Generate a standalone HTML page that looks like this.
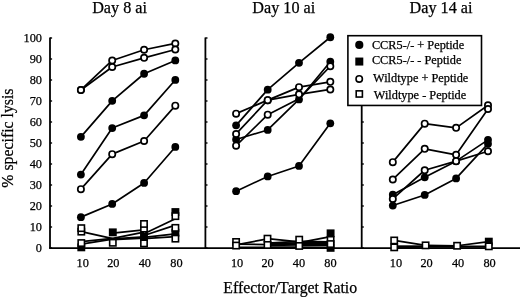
<!DOCTYPE html>
<html><head><meta charset="utf-8"><style>
html,body{margin:0;padding:0;background:#fff;}
body{width:520px;height:297px;overflow:hidden;}
svg{display:block;filter:grayscale(1);}
.t12{font-family:"Liberation Serif",serif;font-size:12.3px;fill:#000;stroke:#000;stroke-width:0.25px;}
.t16{font-family:"Liberation Serif",serif;font-size:16.2px;fill:#000;stroke:#000;stroke-width:0.25px;}
.t16b{font-family:"Liberation Serif",serif;font-size:15.8px;fill:#000;stroke:#000;stroke-width:0.25px;}
.t16c{font-family:"Liberation Serif",serif;font-size:15.8px;fill:#000;stroke:#000;stroke-width:0.25px;}
</style></head><body>
<svg width="520" height="297" viewBox="0 0 520 297">
<line x1="49.1" y1="248.2" x2="520" y2="248.2" stroke="#000" stroke-width="1.7"/>
<line x1="50.0" y1="37.5" x2="50.0" y2="248.2" stroke="#000" stroke-width="1.8"/>
<line x1="50.0" y1="248" x2="52.1" y2="248" stroke="#000" stroke-width="1.4"/>
<line x1="50.0" y1="227" x2="52.1" y2="227" stroke="#000" stroke-width="1.4"/>
<line x1="50.0" y1="206" x2="52.1" y2="206" stroke="#000" stroke-width="1.4"/>
<line x1="50.0" y1="185" x2="52.1" y2="185" stroke="#000" stroke-width="1.4"/>
<line x1="50.0" y1="164" x2="52.1" y2="164" stroke="#000" stroke-width="1.4"/>
<line x1="50.0" y1="143" x2="52.1" y2="143" stroke="#000" stroke-width="1.4"/>
<line x1="50.0" y1="122" x2="52.1" y2="122" stroke="#000" stroke-width="1.4"/>
<line x1="50.0" y1="101" x2="52.1" y2="101" stroke="#000" stroke-width="1.4"/>
<line x1="50.0" y1="80" x2="52.1" y2="80" stroke="#000" stroke-width="1.4"/>
<line x1="50.0" y1="59" x2="52.1" y2="59" stroke="#000" stroke-width="1.4"/>
<line x1="50.0" y1="38" x2="52.1" y2="38" stroke="#000" stroke-width="1.4"/>
<line x1="205.4" y1="37.5" x2="205.4" y2="248.2" stroke="#000" stroke-width="1.8"/>
<line x1="205.4" y1="248" x2="207.5" y2="248" stroke="#000" stroke-width="1.4"/>
<line x1="205.4" y1="227" x2="207.5" y2="227" stroke="#000" stroke-width="1.4"/>
<line x1="205.4" y1="206" x2="207.5" y2="206" stroke="#000" stroke-width="1.4"/>
<line x1="205.4" y1="185" x2="207.5" y2="185" stroke="#000" stroke-width="1.4"/>
<line x1="205.4" y1="164" x2="207.5" y2="164" stroke="#000" stroke-width="1.4"/>
<line x1="205.4" y1="143" x2="207.5" y2="143" stroke="#000" stroke-width="1.4"/>
<line x1="205.4" y1="122" x2="207.5" y2="122" stroke="#000" stroke-width="1.4"/>
<line x1="205.4" y1="101" x2="207.5" y2="101" stroke="#000" stroke-width="1.4"/>
<line x1="205.4" y1="80" x2="207.5" y2="80" stroke="#000" stroke-width="1.4"/>
<line x1="205.4" y1="59" x2="207.5" y2="59" stroke="#000" stroke-width="1.4"/>
<line x1="205.4" y1="38" x2="207.5" y2="38" stroke="#000" stroke-width="1.4"/>
<line x1="361.7" y1="105" x2="361.7" y2="248.2" stroke="#000" stroke-width="1.8"/>
<line x1="361.7" y1="248" x2="363.8" y2="248" stroke="#000" stroke-width="1.4"/>
<line x1="361.7" y1="227" x2="363.8" y2="227" stroke="#000" stroke-width="1.4"/>
<line x1="361.7" y1="206" x2="363.8" y2="206" stroke="#000" stroke-width="1.4"/>
<line x1="361.7" y1="185" x2="363.8" y2="185" stroke="#000" stroke-width="1.4"/>
<line x1="361.7" y1="164" x2="363.8" y2="164" stroke="#000" stroke-width="1.4"/>
<line x1="361.7" y1="143" x2="363.8" y2="143" stroke="#000" stroke-width="1.4"/>
<line x1="361.7" y1="122" x2="363.8" y2="122" stroke="#000" stroke-width="1.4"/>
<text x="42" y="252.2" text-anchor="end" class="t12">0</text>
<text x="42" y="231.2" text-anchor="end" class="t12">10</text>
<text x="42" y="210.2" text-anchor="end" class="t12">20</text>
<text x="42" y="189.2" text-anchor="end" class="t12">30</text>
<text x="42" y="168.2" text-anchor="end" class="t12">40</text>
<text x="42" y="147.2" text-anchor="end" class="t12">50</text>
<text x="42" y="126.2" text-anchor="end" class="t12">60</text>
<text x="42" y="105.2" text-anchor="end" class="t12">70</text>
<text x="42" y="84.2" text-anchor="end" class="t12">80</text>
<text x="42" y="63.2" text-anchor="end" class="t12">90</text>
<text x="42" y="42.2" text-anchor="end" class="t12">100</text>
<text x="82.7" y="266.9" text-anchor="middle" class="t12">10</text>
<text x="113.3" y="266.9" text-anchor="middle" class="t12">20</text>
<text x="144.8" y="266.9" text-anchor="middle" class="t12">40</text>
<text x="176.4" y="266.9" text-anchor="middle" class="t12">80</text>
<text x="237.1" y="266.9" text-anchor="middle" class="t12">10</text>
<text x="267.6" y="266.9" text-anchor="middle" class="t12">20</text>
<text x="299.0" y="266.9" text-anchor="middle" class="t12">40</text>
<text x="330.4" y="266.9" text-anchor="middle" class="t12">80</text>
<text x="395.9" y="266.9" text-anchor="middle" class="t12">10</text>
<text x="426.6" y="266.9" text-anchor="middle" class="t12">20</text>
<text x="458.1" y="266.9" text-anchor="middle" class="t12">40</text>
<text x="489.6" y="266.9" text-anchor="middle" class="t12">80</text>
<text x="119.6" y="12.7" text-anchor="middle" class="t16">Day 8 ai</text>
<text x="283.8" y="12.7" text-anchor="middle" class="t16">Day 10 ai</text>
<text x="441.0" y="12.7" text-anchor="middle" class="t16">Day 14 ai</text>
<text x="290.2" y="292.5" text-anchor="middle" class="t16b">Effector/Target Ratio</text>
<text transform="translate(12.8,138.1) rotate(-90)" x="0" y="0" text-anchor="middle" class="t16c">% specific lysis</text>
<g transform="translate(0.2,0.35)">
<polyline points="80.7,136.5 112.0,100.5 143.9,73.4 175.1,60.1" fill="none" stroke="#000" stroke-width="1.7" stroke-linejoin="round"/>
<polyline points="80.7,174.2 112.0,127.7 143.9,115.0 175.1,79.6" fill="none" stroke="#000" stroke-width="1.7" stroke-linejoin="round"/>
<polyline points="80.7,216.8 112.0,203.6 143.9,182.6 175.1,146.6" fill="none" stroke="#000" stroke-width="1.7" stroke-linejoin="round"/>
<polyline points="80.7,89.6 112.0,60.1 143.9,49.4 175.1,43.1" fill="none" stroke="#000" stroke-width="1.7" stroke-linejoin="round"/>
<polyline points="80.7,89.6 112.0,66.7 143.9,57.5 175.1,49.2" fill="none" stroke="#000" stroke-width="1.7" stroke-linejoin="round"/>
<polyline points="80.7,188.8 112.0,153.8 143.9,140.7 175.1,105.3" fill="none" stroke="#000" stroke-width="1.7" stroke-linejoin="round"/>
<polyline points="235.9,125.0 267.5,89.3 298.8,62.5 330.1,36.9" fill="none" stroke="#000" stroke-width="1.7" stroke-linejoin="round"/>
<polyline points="235.9,139.1 267.5,129.6 298.8,99.1 330.1,61.4" fill="none" stroke="#000" stroke-width="1.7" stroke-linejoin="round"/>
<polyline points="235.9,190.85 267.5,176.1 298.8,165.6 330.1,122.95" fill="none" stroke="#000" stroke-width="1.7" stroke-linejoin="round"/>
<polyline points="235.9,113.3 267.5,99.8 298.8,86.8 330.1,81.5" fill="none" stroke="#000" stroke-width="1.7" stroke-linejoin="round"/>
<polyline points="235.9,133.6 267.5,99.8 298.8,94.0 330.1,89.1" fill="none" stroke="#000" stroke-width="1.7" stroke-linejoin="round"/>
<polyline points="235.9,145.3 267.5,114.3 298.8,98.5 330.1,65.9" fill="none" stroke="#000" stroke-width="1.7" stroke-linejoin="round"/>
<polyline points="392.6,194.3 424.5,177.0 455.9,160.8 487.8,139.5" fill="none" stroke="#000" stroke-width="1.7" stroke-linejoin="round"/>
<polyline points="392.6,205.2 424.5,194.6 455.9,178.1 487.8,143.5" fill="none" stroke="#000" stroke-width="1.7" stroke-linejoin="round"/>
<polyline points="392.6,161.8 424.5,123.3 455.9,127.5 487.8,104.9" fill="none" stroke="#000" stroke-width="1.7" stroke-linejoin="round"/>
<polyline points="392.6,179.1 424.5,148.5 455.9,154.5 487.8,108.7" fill="none" stroke="#000" stroke-width="1.7" stroke-linejoin="round"/>
<polyline points="392.6,198.6 424.5,169.9 455.9,160.8 487.8,150.9" fill="none" stroke="#000" stroke-width="1.7" stroke-linejoin="round"/>
<line x1="81.1" y1="231.3" x2="112.6" y2="238.3" stroke="#000" stroke-width="1.7"/>
<line x1="81.1" y1="241.2" x2="112.6" y2="238.0" stroke="#000" stroke-width="1.7"/>
<line x1="81.1" y1="243.8" x2="112.6" y2="238.8" stroke="#000" stroke-width="1.7"/>
<line x1="112.6" y1="232.8" x2="143.8" y2="229.6" stroke="#000" stroke-width="1.7"/>
<line x1="112.6" y1="238.0" x2="143.8" y2="231.8" stroke="#000" stroke-width="1.7"/>
<line x1="112.6" y1="238.6" x2="143.8" y2="236.5" stroke="#000" stroke-width="1.7"/>
<line x1="112.6" y1="239.2" x2="143.8" y2="237.8" stroke="#000" stroke-width="1.7"/>
<line x1="143.8" y1="233.5" x2="175.2" y2="218.5" stroke="#000" stroke-width="1.7"/>
<line x1="143.8" y1="235.2" x2="175.2" y2="224.8" stroke="#000" stroke-width="1.7"/>
<line x1="143.8" y1="237.0" x2="175.2" y2="233.5" stroke="#000" stroke-width="1.7"/>
<line x1="143.8" y1="238.2" x2="175.2" y2="236.2" stroke="#000" stroke-width="1.7"/>
<line x1="235.9" y1="244.6" x2="267.3" y2="238.5" stroke="#000" stroke-width="1.7"/>
<line x1="235.9" y1="243.8" x2="267.3" y2="244.2" stroke="#000" stroke-width="1.7"/>
<line x1="235.9" y1="247.0" x2="267.3" y2="247.0" stroke="#000" stroke-width="1.7"/>
<line x1="267.3" y1="238.3" x2="299.0" y2="241.5" stroke="#000" stroke-width="1.7"/>
<line x1="267.3" y1="242.8" x2="299.0" y2="241.0" stroke="#000" stroke-width="1.7"/>
<line x1="267.3" y1="243.5" x2="299.0" y2="242.5" stroke="#000" stroke-width="1.7"/>
<line x1="267.3" y1="244.5" x2="299.0" y2="243.5" stroke="#000" stroke-width="1.7"/>
<line x1="267.3" y1="245.0" x2="299.0" y2="244.5" stroke="#000" stroke-width="1.7"/>
<line x1="267.3" y1="246.8" x2="299.0" y2="246.8" stroke="#000" stroke-width="1.7"/>
<line x1="299.0" y1="242.3" x2="330.4" y2="236.3" stroke="#000" stroke-width="1.7"/>
<line x1="299.0" y1="241.0" x2="330.4" y2="241.5" stroke="#000" stroke-width="1.7"/>
<line x1="299.0" y1="241.8" x2="330.4" y2="242.5" stroke="#000" stroke-width="1.7"/>
<line x1="299.0" y1="242.8" x2="330.4" y2="243.2" stroke="#000" stroke-width="1.7"/>
<line x1="299.0" y1="244.0" x2="330.4" y2="244.0" stroke="#000" stroke-width="1.7"/>
<line x1="299.0" y1="244.8" x2="330.4" y2="244.8" stroke="#000" stroke-width="1.7"/>
<line x1="299.0" y1="246.8" x2="330.4" y2="247.0" stroke="#000" stroke-width="1.7"/>
<line x1="394.0" y1="240.1" x2="425.4" y2="245.0" stroke="#000" stroke-width="1.7"/>
<line x1="394.0" y1="245.8" x2="425.4" y2="245.8" stroke="#000" stroke-width="1.7"/>
<line x1="394.0" y1="247.0" x2="425.4" y2="246.5" stroke="#000" stroke-width="1.7"/>
<line x1="425.4" y1="245.0" x2="456.9" y2="245.4" stroke="#000" stroke-width="1.7"/>
<line x1="425.4" y1="246.5" x2="456.9" y2="246.5" stroke="#000" stroke-width="1.7"/>
<line x1="425.4" y1="245.8" x2="456.9" y2="246.0" stroke="#000" stroke-width="1.7"/>
<line x1="456.9" y1="245.4" x2="488.6" y2="241.3" stroke="#000" stroke-width="1.7"/>
<line x1="456.9" y1="246.0" x2="488.6" y2="246.0" stroke="#000" stroke-width="1.7"/>
<line x1="456.9" y1="246.5" x2="488.6" y2="246.5" stroke="#000" stroke-width="1.7"/>
<rect x="77.15" y="243.05" width="7.9" height="7.9" fill="#000"/>
<rect x="108.65" y="228.05" width="7.9" height="7.9" fill="#000"/>
<rect x="139.85" y="232.55" width="7.9" height="7.9" fill="#000"/>
<rect x="171.25" y="207.75" width="7.9" height="7.9" fill="#000"/>
<rect x="171.25" y="228.35" width="7.9" height="7.9" fill="#000"/>
<rect x="326.45" y="229.05" width="7.9" height="7.9" fill="#000"/>
<rect x="326.45" y="243.55" width="7.9" height="7.9" fill="#000"/>
<rect x="484.65" y="237.35" width="7.9" height="7.9" fill="#000"/>
<rect x="77.95" y="228.15" width="6.3" height="6.3" fill="#fff" stroke="#000" stroke-width="1.6"/>
<rect x="77.95" y="224.65" width="6.3" height="6.3" fill="#fff" stroke="#000" stroke-width="1.6"/>
<rect x="77.95" y="239.55" width="6.3" height="6.3" fill="#fff" stroke="#000" stroke-width="1.6"/>
<rect x="109.45" y="239.25" width="6.3" height="6.3" fill="#fff" stroke="#000" stroke-width="1.6"/>
<rect x="140.65" y="225.15" width="6.3" height="6.3" fill="#fff" stroke="#000" stroke-width="1.6"/>
<rect x="140.65" y="220.45" width="6.3" height="6.3" fill="#fff" stroke="#000" stroke-width="1.6"/>
<rect x="140.65" y="239.85" width="6.3" height="6.3" fill="#fff" stroke="#000" stroke-width="1.6"/>
<rect x="172.05" y="212.65" width="6.3" height="6.3" fill="#fff" stroke="#000" stroke-width="1.6"/>
<rect x="172.05" y="224.35" width="6.3" height="6.3" fill="#fff" stroke="#000" stroke-width="1.6"/>
<rect x="172.05" y="235.15" width="6.3" height="6.3" fill="#fff" stroke="#000" stroke-width="1.6"/>
<rect x="232.75" y="238.45" width="6.3" height="6.3" fill="#fff" stroke="#000" stroke-width="1.6"/>
<rect x="232.75" y="242.05" width="6.3" height="6.3" fill="#fff" stroke="#000" stroke-width="1.6"/>
<rect x="264.15" y="235.15" width="6.3" height="6.3" fill="#fff" stroke="#000" stroke-width="1.6"/>
<rect x="264.15" y="241.45" width="6.3" height="6.3" fill="#fff" stroke="#000" stroke-width="1.6"/>
<rect x="295.85" y="236.15" width="6.3" height="6.3" fill="#fff" stroke="#000" stroke-width="1.6"/>
<rect x="295.85" y="242.45" width="6.3" height="6.3" fill="#fff" stroke="#000" stroke-width="1.6"/>
<rect x="327.25" y="236.35" width="6.3" height="6.3" fill="#fff" stroke="#000" stroke-width="1.6"/>
<rect x="327.25" y="240.55" width="6.3" height="6.3" fill="#fff" stroke="#000" stroke-width="1.6"/>
<rect x="390.85" y="236.95" width="6.3" height="6.3" fill="#fff" stroke="#000" stroke-width="1.6"/>
<rect x="390.85" y="243.85" width="6.3" height="6.3" fill="#fff" stroke="#000" stroke-width="1.6"/>
<rect x="422.25" y="241.85" width="6.3" height="6.3" fill="#fff" stroke="#000" stroke-width="1.6"/>
<rect x="453.75" y="242.25" width="6.3" height="6.3" fill="#fff" stroke="#000" stroke-width="1.6"/>
<rect x="485.45" y="242.85" width="6.3" height="6.3" fill="#fff" stroke="#000" stroke-width="1.6"/>
<circle cx="487.8" cy="143.5" r="3.9" fill="#000"/>
<circle cx="80.7" cy="136.5" r="3.9" fill="#000"/>
<circle cx="112.0" cy="100.5" r="3.9" fill="#000"/>
<circle cx="143.9" cy="73.4" r="3.9" fill="#000"/>
<circle cx="175.1" cy="60.1" r="3.9" fill="#000"/>
<circle cx="80.7" cy="174.2" r="3.9" fill="#000"/>
<circle cx="112.0" cy="127.7" r="3.9" fill="#000"/>
<circle cx="143.9" cy="115.0" r="3.9" fill="#000"/>
<circle cx="175.1" cy="79.6" r="3.9" fill="#000"/>
<circle cx="80.7" cy="216.8" r="3.9" fill="#000"/>
<circle cx="112.0" cy="203.6" r="3.9" fill="#000"/>
<circle cx="143.9" cy="182.6" r="3.9" fill="#000"/>
<circle cx="175.1" cy="146.6" r="3.9" fill="#000"/>
<circle cx="235.9" cy="125.0" r="3.9" fill="#000"/>
<circle cx="267.5" cy="89.3" r="3.9" fill="#000"/>
<circle cx="298.8" cy="62.5" r="3.9" fill="#000"/>
<circle cx="330.1" cy="36.9" r="3.9" fill="#000"/>
<circle cx="235.9" cy="139.1" r="3.9" fill="#000"/>
<circle cx="267.5" cy="129.6" r="3.9" fill="#000"/>
<circle cx="298.8" cy="99.1" r="3.9" fill="#000"/>
<circle cx="330.1" cy="61.4" r="3.9" fill="#000"/>
<circle cx="235.9" cy="190.85" r="3.9" fill="#000"/>
<circle cx="267.5" cy="176.1" r="3.9" fill="#000"/>
<circle cx="298.8" cy="165.6" r="3.9" fill="#000"/>
<circle cx="330.1" cy="122.95" r="3.9" fill="#000"/>
<circle cx="392.6" cy="194.3" r="3.9" fill="#000"/>
<circle cx="424.5" cy="177.0" r="3.9" fill="#000"/>
<circle cx="455.9" cy="160.8" r="3.9" fill="#000"/>
<circle cx="487.8" cy="139.5" r="3.9" fill="#000"/>
<circle cx="80.7" cy="89.6" r="3.15" fill="#fff" stroke="#000" stroke-width="1.7"/>
<circle cx="112.0" cy="60.1" r="3.15" fill="#fff" stroke="#000" stroke-width="1.7"/>
<circle cx="143.9" cy="49.4" r="3.15" fill="#fff" stroke="#000" stroke-width="1.7"/>
<circle cx="175.1" cy="43.1" r="3.15" fill="#fff" stroke="#000" stroke-width="1.7"/>
<circle cx="80.7" cy="89.6" r="3.15" fill="#fff" stroke="#000" stroke-width="1.7"/>
<circle cx="112.0" cy="66.7" r="3.15" fill="#fff" stroke="#000" stroke-width="1.7"/>
<circle cx="143.9" cy="57.5" r="3.15" fill="#fff" stroke="#000" stroke-width="1.7"/>
<circle cx="175.1" cy="49.2" r="3.15" fill="#fff" stroke="#000" stroke-width="1.7"/>
<circle cx="80.7" cy="188.8" r="3.15" fill="#fff" stroke="#000" stroke-width="1.7"/>
<circle cx="112.0" cy="153.8" r="3.15" fill="#fff" stroke="#000" stroke-width="1.7"/>
<circle cx="143.9" cy="140.7" r="3.15" fill="#fff" stroke="#000" stroke-width="1.7"/>
<circle cx="175.1" cy="105.3" r="3.15" fill="#fff" stroke="#000" stroke-width="1.7"/>
<circle cx="235.9" cy="113.3" r="3.15" fill="#fff" stroke="#000" stroke-width="1.7"/>
<circle cx="267.5" cy="99.8" r="3.15" fill="#fff" stroke="#000" stroke-width="1.7"/>
<circle cx="298.8" cy="86.8" r="3.15" fill="#fff" stroke="#000" stroke-width="1.7"/>
<circle cx="330.1" cy="81.5" r="3.15" fill="#fff" stroke="#000" stroke-width="1.7"/>
<circle cx="235.9" cy="133.6" r="3.15" fill="#fff" stroke="#000" stroke-width="1.7"/>
<circle cx="267.5" cy="99.8" r="3.15" fill="#fff" stroke="#000" stroke-width="1.7"/>
<circle cx="298.8" cy="94.0" r="3.15" fill="#fff" stroke="#000" stroke-width="1.7"/>
<circle cx="330.1" cy="89.1" r="3.15" fill="#fff" stroke="#000" stroke-width="1.7"/>
<circle cx="235.9" cy="145.3" r="3.15" fill="#fff" stroke="#000" stroke-width="1.7"/>
<circle cx="267.5" cy="114.3" r="3.15" fill="#fff" stroke="#000" stroke-width="1.7"/>
<circle cx="330.1" cy="65.9" r="3.15" fill="#fff" stroke="#000" stroke-width="1.7"/>
<circle cx="392.6" cy="161.8" r="3.15" fill="#fff" stroke="#000" stroke-width="1.7"/>
<circle cx="424.5" cy="123.3" r="3.15" fill="#fff" stroke="#000" stroke-width="1.7"/>
<circle cx="455.9" cy="127.5" r="3.15" fill="#fff" stroke="#000" stroke-width="1.7"/>
<circle cx="487.8" cy="104.9" r="3.15" fill="#fff" stroke="#000" stroke-width="1.7"/>
<circle cx="392.6" cy="179.1" r="3.15" fill="#fff" stroke="#000" stroke-width="1.7"/>
<circle cx="424.5" cy="148.5" r="3.15" fill="#fff" stroke="#000" stroke-width="1.7"/>
<circle cx="455.9" cy="154.5" r="3.15" fill="#fff" stroke="#000" stroke-width="1.7"/>
<circle cx="487.8" cy="108.7" r="3.15" fill="#fff" stroke="#000" stroke-width="1.7"/>
<circle cx="392.6" cy="198.6" r="3.15" fill="#fff" stroke="#000" stroke-width="1.7"/>
<circle cx="424.5" cy="169.9" r="3.15" fill="#fff" stroke="#000" stroke-width="1.7"/>
<circle cx="455.9" cy="160.8" r="3.15" fill="#fff" stroke="#000" stroke-width="1.7"/>
<circle cx="487.8" cy="150.9" r="3.15" fill="#fff" stroke="#000" stroke-width="1.7"/>
<circle cx="392.6" cy="205.2" r="3.9" fill="#000"/>
<circle cx="424.5" cy="194.6" r="3.9" fill="#000"/>
<circle cx="455.9" cy="178.1" r="3.9" fill="#000"/>
</g>
<rect x="347.9" y="35.7" width="133.6" height="69.75" fill="#fff" stroke="#000" stroke-width="1.6"/>
<g transform="translate(0.2,0.35)">
<circle cx="359.1" cy="44.6" r="4.1" fill="#000"/>
<rect x="355.1" y="57.2" width="8" height="8" fill="#000"/>
<circle cx="359.0" cy="78.6" r="3.2" fill="#fff" stroke="#000" stroke-width="1.6"/>
<rect x="356.0" y="90.5" width="6.2" height="6.2" fill="#fff" stroke="#000" stroke-width="1.6"/>
</g>
<text x="371.9" y="48.8" class="t12">CCR5-/- + Peptide</text>
<text x="371.9" y="64.2" class="t12">CCR5-/- - Peptide</text>
<text x="373.1" y="82.0" class="t12">Wildtype + Peptide</text>
<text x="373.8" y="99.2" class="t12">Wildtype - Peptide</text>
</svg>
</body></html>
